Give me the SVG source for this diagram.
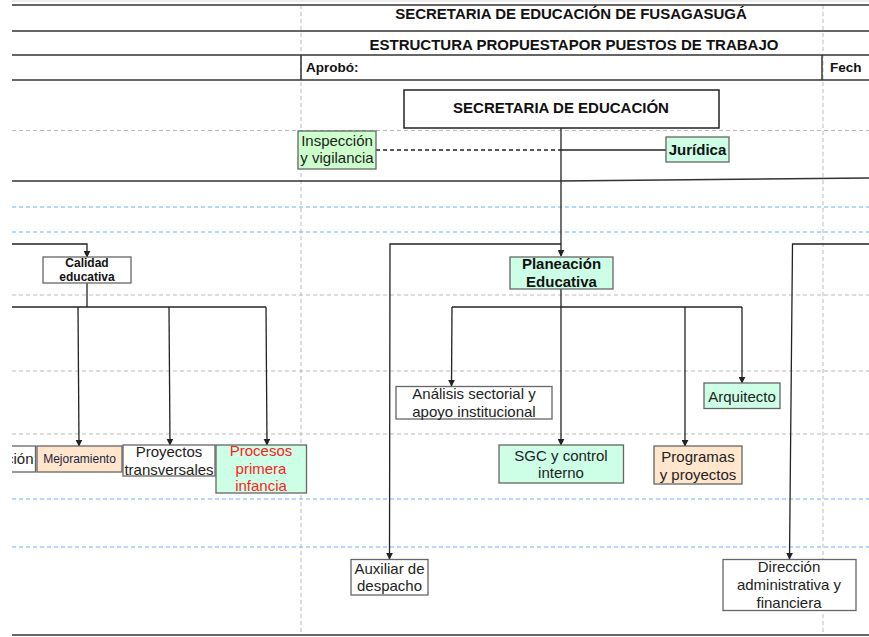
<svg xmlns="http://www.w3.org/2000/svg" width="869" height="637" viewBox="0 0 869 637">
<style>
.hdr{font-family:"Liberation Sans",Arial,sans-serif;font-weight:bold;font-size:15px;fill:#111;text-anchor:middle}
.t{font-family:"Liberation Sans",Arial,sans-serif;font-size:15px;fill:#222;text-anchor:middle}
.b{font-weight:bold;fill:#111}
.sm{font-size:12px}
.box{stroke:#666;stroke-width:1.3}
.w{fill:#fff}
.g{fill:#ccffcc}
.m{fill:#ccffe6}
.p{fill:#ffe6cc}
.rule{stroke:#333;stroke-width:1.5;fill:none}
.gd{stroke:#bbb;stroke-width:1;stroke-dasharray:4 3;fill:none}
.bd{stroke:#66b2ff;stroke-width:1.2;stroke-dasharray:4 3;fill:none}
.c{stroke:#222;stroke-width:1.3;fill:none}
</style>
<defs>
<marker id="ar" viewBox="0 0 10 10" refX="9" refY="5" markerWidth="7" markerHeight="7" orient="auto" markerUnits="userSpaceOnUse">
<path d="M0,0 L10,5 L0,10 z" fill="#222"/>
</marker>
<clipPath id="clip"><rect x="12" y="0" width="857" height="637"/></clipPath>
</defs>
<rect x="0" y="0" width="869" height="637" fill="#fff"/>
<g clip-path="url(#clip)">
<g id="grid">
<line class="gd" x1="301" y1="5" x2="301" y2="635"/>
<line class="gd" x1="823" y1="5" x2="823" y2="635"/>
<line class="gd" x1="12" y1="130.5" x2="869" y2="130.5"/>
<line class="gd" x1="12" y1="295" x2="869" y2="295"/>
<line class="gd" x1="12" y1="371" x2="869" y2="371"/>
<line class="gd" x1="12" y1="434" x2="869" y2="434"/>
<line class="bd" x1="12" y1="207" x2="869" y2="207"/>
<line class="bd" x1="12" y1="232" x2="869" y2="232"/>
<line class="bd" x1="12" y1="499" x2="869" y2="499"/>
<line class="bd" x1="12" y1="547" x2="869" y2="547"/>
</g>
<g id="header">
<line x1="12" y1="1" x2="869" y2="1" stroke="#ddd" stroke-width="1"/>
<line class="rule" x1="12" y1="5" x2="869" y2="5"/>
<line class="rule" x1="12" y1="31" x2="869" y2="31"/>
<line class="rule" x1="12" y1="55" x2="869" y2="55"/>
<line class="rule" x1="12" y1="80" x2="869" y2="80"/>
<line class="rule" x1="301" y1="55" x2="301" y2="80"/>
<line class="rule" x1="822" y1="55" x2="822" y2="80"/>
<polyline class="rule" points="12,181 560,181 869,178"/>
<line class="rule" x1="12" y1="635" x2="869" y2="635"/>
<text class="hdr" x="571" y="19">SECRETARIA DE EDUCACIÓN DE FUSAGASUGÁ</text>
<text class="hdr" x="574" y="50">ESTRUCTURA PROPUESTAPOR PUESTOS DE TRABAJO</text>
<text class="hdr" x="306" y="71.5" style="text-anchor:start;font-size:13.5px">Aprobó:</text>
<text class="hdr" x="830" y="71.5" style="text-anchor:start;font-size:13.5px">Fech</text>
</g>
<g id="connectors">
<line class="c" x1="376" y1="150" x2="561" y2="150" stroke-dasharray="4 3"/>
<line class="c" x1="561" y1="150" x2="666" y2="150"/>
<line class="c" x1="561" y1="128" x2="561" y2="256" marker-end="url(#ar)"/>
<polyline class="c" points="12,244 87,244 87,257" marker-end="url(#ar)"/>
<line class="c" x1="87" y1="283" x2="87" y2="307"/>
<line class="c" x1="12" y1="307" x2="266" y2="307"/>
<line class="c" x1="78" y1="307" x2="79" y2="446" marker-end="url(#ar)"/>
<line class="c" x1="169" y1="307" x2="170" y2="445" marker-end="url(#ar)"/>
<line class="c" x1="266" y1="307" x2="267" y2="445" marker-end="url(#ar)"/>
<polyline class="c" points="561,244 390,244 389.5,559" marker-end="url(#ar)"/>
<polyline class="c" points="869,244 792.5,244 789.5,559" marker-end="url(#ar)"/>
<line class="c" x1="561" y1="289" x2="561" y2="445" marker-end="url(#ar)"/>
<line class="c" x1="452" y1="307" x2="742" y2="307"/>
<line class="c" x1="452" y1="307" x2="451.5" y2="386" marker-end="url(#ar)"/>
<line class="c" x1="685" y1="307" x2="685" y2="446" marker-end="url(#ar)"/>
<line class="c" x1="742" y1="307" x2="742" y2="383" marker-end="url(#ar)"/>
</g>
<g id="n-secretaria">
<rect x="404" y="90" width="315" height="38" fill="#fff" stroke="#222" stroke-width="1.5"/>
<text class="hdr" x="561" y="112.5">SECRETARIA DE EDUCACIÓN</text>
</g>
<g id="n-inspeccion">
<rect class="box g" x="298" y="131" width="78" height="38"/>
<text class="t" x="337" y="146">Inspección</text>
<text class="t" x="337" y="163">y vigilancia</text>
</g>
<g id="n-juridica">
<rect class="box m" x="666" y="137" width="63" height="25"/>
<text class="t b" x="697.5" y="155">Jurídica</text>
</g>
<g id="n-planeacion">
<rect class="box m" x="510" y="257" width="103" height="32"/>
<text class="t b" x="561.5" y="268.5">Planeación</text>
<text class="t b" x="561.5" y="287">Educativa</text>
</g>
<g id="n-calidad">
<rect class="box w" x="43" y="257" width="88" height="26"/>
<text class="t b sm" x="87" y="267">Calidad</text>
<text class="t b sm" x="87" y="280.5">educativa</text>
</g>
<g id="n-cion">
<rect class="box w" x="0" y="446" width="35.5" height="26"/>
<text class="t" x="33.5" y="463.5" style="text-anchor:end">ción</text>
</g>
<g id="n-mejoramiento">
<rect class="box p" x="37" y="446" width="85" height="26"/>
<text class="t sm" x="79.5" y="463" style="fill:#222244">Mejoramiento</text>
</g>
<g id="n-proyectos">
<rect class="box w" x="123" y="445" width="92" height="31"/>
<text class="t" x="169" y="457">Proyectos</text>
<text class="t" x="169" y="474.5">transversales</text>
</g>
<g id="n-procesos">
<rect class="box m" x="216" y="445" width="90.5" height="48"/>
<text class="t" x="261" y="455.5" style="fill:#ff2222">Procesos</text>
<text class="t" x="261" y="473.5" style="fill:#ff2222">primera</text>
<text class="t" x="261" y="491" style="fill:#ff2222">infancia</text>
</g>
<g id="n-analisis">
<rect class="box w" x="396" y="386.5" width="156" height="32.5"/>
<text class="t" x="474" y="398.5">Análisis sectorial y</text>
<text class="t" x="474" y="417">apoyo institucional</text>
</g>
<g id="n-arquitecto">
<rect class="box m" x="704" y="383" width="76" height="25.5"/>
<text class="t" x="742" y="401.5">Arquitecto</text>
</g>
<g id="n-sgc">
<rect class="box m" x="499" y="445" width="124.5" height="38"/>
<text class="t" x="561" y="460.5">SGC y control</text>
<text class="t" x="561" y="478">interno</text>
</g>
<g id="n-programas">
<rect class="box p" x="654" y="446" width="88" height="38"/>
<text class="t" x="698" y="462">Programas</text>
<text class="t" x="698" y="479.5">y proyectos</text>
</g>
<g id="n-auxiliar">
<rect class="box w" x="351" y="559.5" width="77" height="35.5"/>
<text class="t" x="389.5" y="573.5">Auxiliar de</text>
<text class="t" x="389.5" y="591">despacho</text>
</g>
<g id="n-direccion">
<rect class="box w" x="723" y="559.5" width="133" height="51"/>
<text class="t" x="789" y="572">Dirección</text>
<text class="t" x="789" y="590">administrativa y</text>
<text class="t" x="789" y="607.5">financiera</text>
</g>
</g>
</svg>
